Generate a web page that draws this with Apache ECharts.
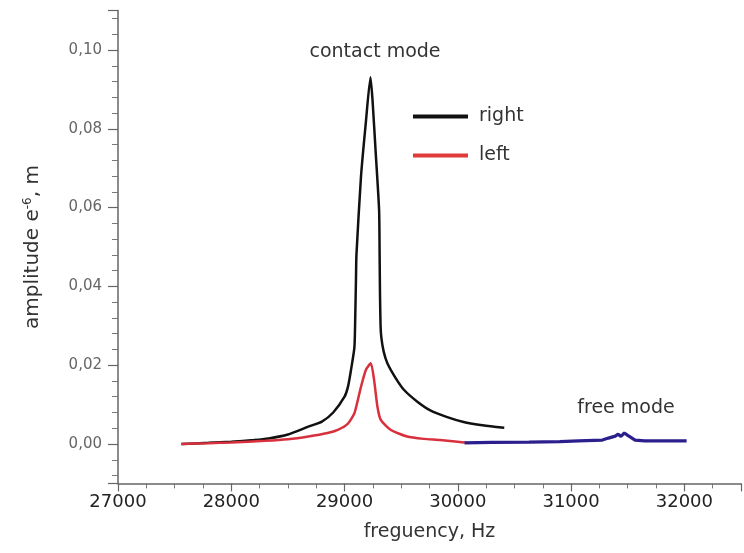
<!DOCTYPE html>
<html>
<head>
<meta charset="utf-8">
<title>Resonance amplitude vs frequency</title>
<script src="https://cdn.jsdelivr.net/npm/echarts@6/dist/echarts.min.js"></script>
<style>
  html, body { margin: 0; padding: 0; background: #ffffff; }
  #chart { width: 744px; height: 553px; }
</style>
</head>
<body>
<div id="chart"></div>
<script>
// Contact-mode response, right side (Hz, amplitude e-6 m)
const rightFreq = [27560, 27800, 28000, 28200, 28330, 28500, 28680, 28800, 28900, 29000,
  29030, 29057, 29087, 29095, 29101, 29105, 29145, 29186, 29229, 29247,
  29276, 29305, 29310, 29313, 29318, 29325, 29345, 29378, 29450, 29526,
  29640, 29753, 29900, 30051, 30200, 30340, 30410];
const rightAmp = [0.0000, 0.0003, 0.0006, 0.0010, 0.0014, 0.0024, 0.0044, 0.0057, 0.0080, 0.0120,
  0.0145, 0.0188, 0.0245, 0.0330, 0.0420, 0.0480, 0.0678, 0.0810, 0.0931, 0.0873,
  0.0735, 0.0594, 0.0470, 0.0380, 0.0300, 0.0270, 0.0235, 0.0205, 0.0168, 0.0137,
  0.0108, 0.0086, 0.0069, 0.0056, 0.0048, 0.0043, 0.0041];

// Contact-mode response, left side
const leftFreq = [27560, 27800, 28000, 28300, 28500, 28680, 28850, 28940, 29030, 29087,
  29120, 29145, 29188, 29232, 29261, 29290, 29320, 29406, 29552, 29700,
  29843, 30077];
const leftAmp = [0.0000, 0.0002, 0.0004, 0.0008, 0.0012, 0.0019, 0.0028, 0.0036, 0.0052, 0.0078,
  0.0115, 0.0145, 0.0188, 0.0205, 0.0162, 0.0095, 0.0061, 0.0036, 0.0019, 0.0013,
  0.0010, 0.0003];

// Free-mode response
const freeFreq = [30060, 30300, 30628, 30900, 31065, 31276, 31330, 31390, 31416, 31440,
  31470, 31500, 31513, 31565, 31650, 31800, 32020];
const freeAmp = [0.0003, 0.0004, 0.0005, 0.0006, 0.0008, 0.0010, 0.0015, 0.0020, 0.0025, 0.0019,
  0.0028, 0.0022, 0.0017, 0.0010, 0.0008, 0.0008, 0.0008];

const legendNames = ['right', 'left'];
const annotations = { contact: 'contact mode', free: 'free mode' };

const pairs = (xs, ys) => xs.map((x, i) => [x, ys[i]]);

const FONT = '"DejaVu Sans", Verdana, sans-serif';
const chart = echarts.init(document.getElementById('chart'), null, { renderer: 'canvas' });

chart.setOption({
  backgroundColor: '#ffffff',
  animation: false,
  grid: { left: 118, top: 10.6, width: 629, height: 472.8 },
  legend: {
    data: legendNames,
    orient: 'vertical',
    left: 408,
    top: 101,
    icon: 'rect',
    itemWidth: 55,
    itemHeight: 4,
    itemGap: 18,
    textStyle: { fontFamily: FONT, fontSize: 19, color: '#333', lineHeight: 21, padding: [0, 0, 0, 6] }
  },
  xAxis: {
    type: 'value',
    min: 27000,
    max: 32500,
    interval: 1000,
    name: 'freguency, Hz',
    nameLocation: 'middle',
    nameGap: 39,
    nameTextStyle: { fontFamily: FONT, fontSize: 19, color: '#333' },
    axisLine: { onZero: false, lineStyle: { color: '#666', width: 1.5 } },
    axisTick: { length: 8, lineStyle: { color: '#666', width: 1.2 } },
    minorTick: { show: true, splitNumber: 4, length: 5, lineStyle: { color: '#777' } },
    splitLine: { show: false },
    axisLabel: {
      fontFamily: FONT, fontSize: 18, color: '#222', margin: 10,
      formatter: v => (v > 32200 ? '' : String(v))
    }
  },
  yAxis: {
    type: 'value',
    min: -0.01,
    max: 0.11,
    splitNumber: 6,
    name: 'amplitude e{sup|-6}, m',
    nameLocation: 'middle',
    nameGap: 74,
    nameTextStyle: {
      fontFamily: FONT, fontSize: 20, color: '#333',
      rich: { sup: { fontFamily: FONT, fontSize: 12, color: '#333', verticalAlign: 'top', padding: [0, 0, 10, 0] } }
    },
    axisLine: { show: true, onZero: false, lineStyle: { color: '#666', width: 1.5 } },
    axisTick: { show: true, length: 10, lineStyle: { color: '#666', width: 1.2 } },
    minorTick: { show: true, splitNumber: 5, length: 6, lineStyle: { color: '#777' } },
    splitLine: { show: false },
    axisLabel: {
      fontFamily: FONT, fontSize: 15, color: '#666', margin: 16,
      formatter: v => {
        if (v < -0.005 || v > 0.105) return '';
        return v.toFixed(2).replace('.', ',');
      }
    }
  },
  series: [
    {
      name: 'right', type: 'line', data: pairs(rightFreq, rightAmp),
      showSymbol: false, z: 2, smooth: 0.2,
      lineStyle: { color: '#111', width: 2.5 }, itemStyle: { color: '#111' }
    },
    {
      name: 'left', type: 'line', data: pairs(leftFreq, leftAmp),
      showSymbol: false, z: 3, smooth: 0.2,
      lineStyle: { color: '#d8303c', width: 2.5 }, itemStyle: { color: '#e03a3a' }
    },
    {
      name: 'free', type: 'line', data: pairs(freeFreq, freeAmp),
      showSymbol: false, z: 4,
      lineStyle: { color: '#2a1f8c', width: 3.2 }, itemStyle: { color: '#2a1f8c' }
    }
  ],
  graphic: [
    {
      type: 'text', x: 375, y: 52,
      style: { text: annotations.contact, fontFamily: FONT, fontSize: 19, fill: '#333', align: 'center', verticalAlign: 'middle' }
    },
    {
      type: 'text', x: 626, y: 408,
      style: { text: annotations.free, fontFamily: FONT, fontSize: 19, fill: '#333', align: 'center', verticalAlign: 'middle' }
    }
  ]
});
</script>
</body>
</html>
